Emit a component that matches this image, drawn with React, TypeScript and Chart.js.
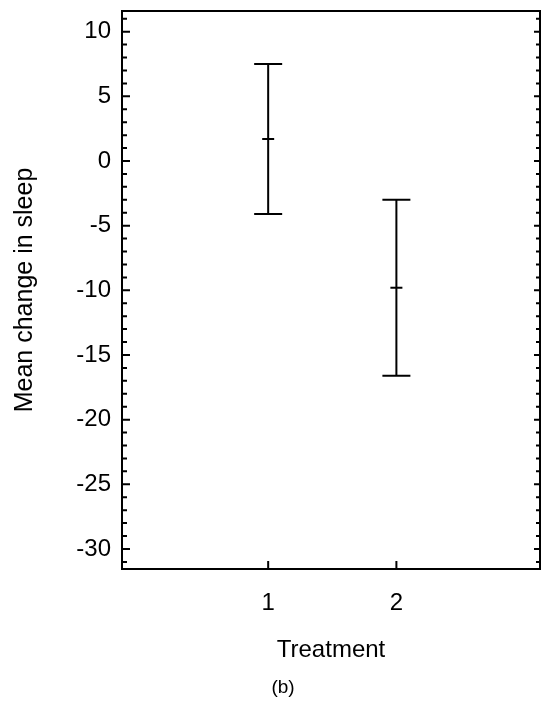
import React, { useEffect, useRef } from "react";
import { Chart, registerables } from "chart.js";

Chart.register(...registerables);

const treatments = [1, 2];
const means = [1.7, -9.8];
const lowers = [-4.1, -16.6];
const uppers = [7.5, -3.0];
const yTicks = [-30, -25, -20, -15, -10, -5, 0, 5, 10];
const xTicks = [1, 2];
const yTitle = "Mean change in sleep";
const xTitle = "Treatment";
const panelLabel = "(b)";

const FONT = "'Liberation Sans', Arial, Helvetica, sans-serif";
const INK = "#000";

const decorPlugin = {
  id: "decor",
  afterDatasetsDraw(chart: any) {
    const { ctx, chartArea: a, scales } = chart;
    const xs = scales.x;
    const ys = scales.y;
    ctx.save();
    ctx.strokeStyle = INK;
    ctx.lineWidth = 2;
    ctx.lineCap = "butt";
    // frame
    ctx.strokeRect(a.left, a.top, a.right - a.left, a.bottom - a.top);
    // y ticks (inward, both sides)
    const lo = Math.ceil(ys.min);
    const hi = Math.floor(ys.max);
    for (let v = lo; v <= hi; v++) {
      const y = ys.getPixelForValue(v);
      const major = yTicks.includes(v);
      const lenL = major ? 8 : 5;
      const lenR = major ? 6 : 4;
      ctx.beginPath();
      ctx.moveTo(a.left, y);
      ctx.lineTo(a.left + lenL, y);
      ctx.moveTo(a.right, y);
      ctx.lineTo(a.right - lenR, y);
      ctx.stroke();
    }
    // x ticks (inward at bottom)
    for (const t of xTicks) {
      const x = xs.getPixelForValue(t);
      ctx.beginPath();
      ctx.moveTo(x, a.bottom);
      ctx.lineTo(x, a.bottom - 8);
      ctx.stroke();
    }
    // error bars
    const cap = 14;
    for (let i = 0; i < treatments.length; i++) {
      const x = xs.getPixelForValue(treatments[i]);
      const yU = ys.getPixelForValue(uppers[i]);
      const yL = ys.getPixelForValue(lowers[i]);
      ctx.beginPath();
      ctx.moveTo(x, yU);
      ctx.lineTo(x, yL);
      ctx.moveTo(x - cap, yU);
      ctx.lineTo(x + cap, yU);
      ctx.moveTo(x - cap, yL);
      ctx.lineTo(x + cap, yL);
      ctx.stroke();
    }
    // panel label
    ctx.fillStyle = INK;
    ctx.font = `19px ${FONT}`;
    ctx.textAlign = "center";
    ctx.textBaseline = "middle";
    ctx.fillText(panelLabel, 283, 688);
    ctx.restore();
  },
};

export default function App() {
  const ref = useRef<HTMLCanvasElement | null>(null);
  useEffect(() => {
    if (!ref.current) return;
    const chart = new Chart(ref.current, {
      type: "scatter",
      data: {
        datasets: [
          {
            data: treatments.map((t, i) => ({ x: t, y: means[i] })),
            pointStyle: "line",
            pointRadius: 6,
            pointBorderWidth: 2,
            borderColor: INK,
            backgroundColor: INK,
            showLine: false,
          },
        ],
      },
      options: {
        responsive: false,
        animation: false,
        events: [],
        layout: { autoPadding: false, padding: { top: 11, right: 4, left: 0, bottom: 0 } },
        plugins: {
          legend: { display: false },
          tooltip: { enabled: false },
          title: { display: false },
        },
        scales: {
          x: {
            type: "linear",
            min: -0.14,
            max: 3.12,
            grid: { display: false, drawTicks: false },
            border: { display: false },
            afterBuildTicks: (s: any) => {
              s.ticks = xTicks.map((v) => ({ value: v }));
            },
            afterFit: (s: any) => {
              s.height = 133;
              s.paddingLeft = 0;
              s.paddingRight = 0;
            },
            ticks: {
              color: INK,
              padding: 19.6,
              font: { family: FONT, size: 24 },
              callback: (v: any) => String(v),
            },
            title: {
              display: true,
              text: xTitle,
              color: INK,
              font: { family: FONT, size: 24 },
              padding: { top: 0, bottom: 37.6 },
            },
          },
          y: {
            type: "linear",
            min: -31.55,
            max: 11.6,
            grid: { display: false, drawTicks: false },
            border: { display: false },
            afterBuildTicks: (s: any) => {
              s.ticks = yTicks.map((v) => ({ value: v }));
            },
            afterFit: (s: any) => {
              s.width = 122;
              s.paddingTop = 0;
              s.paddingBottom = 0;
            },
            ticks: {
              color: INK,
              padding: 11,
              font: { family: FONT, size: 24 },
              callback: (v: any) => String(v),
            },
            title: {
              display: true,
              text: yTitle,
              color: INK,
              font: { family: FONT, size: 25 },
              padding: { top: 10, bottom: 0 },
            },
          },
        },
      },
      plugins: [decorPlugin],
    });
    return () => chart.destroy();
  }, []);
  return (
    <canvas
      ref={ref}
      width={544}
      height={702}
      style={{ position: "absolute", left: 0, top: 0, width: 544, height: 702, display: "block", background: "#fff" }}
    />
  );
}
